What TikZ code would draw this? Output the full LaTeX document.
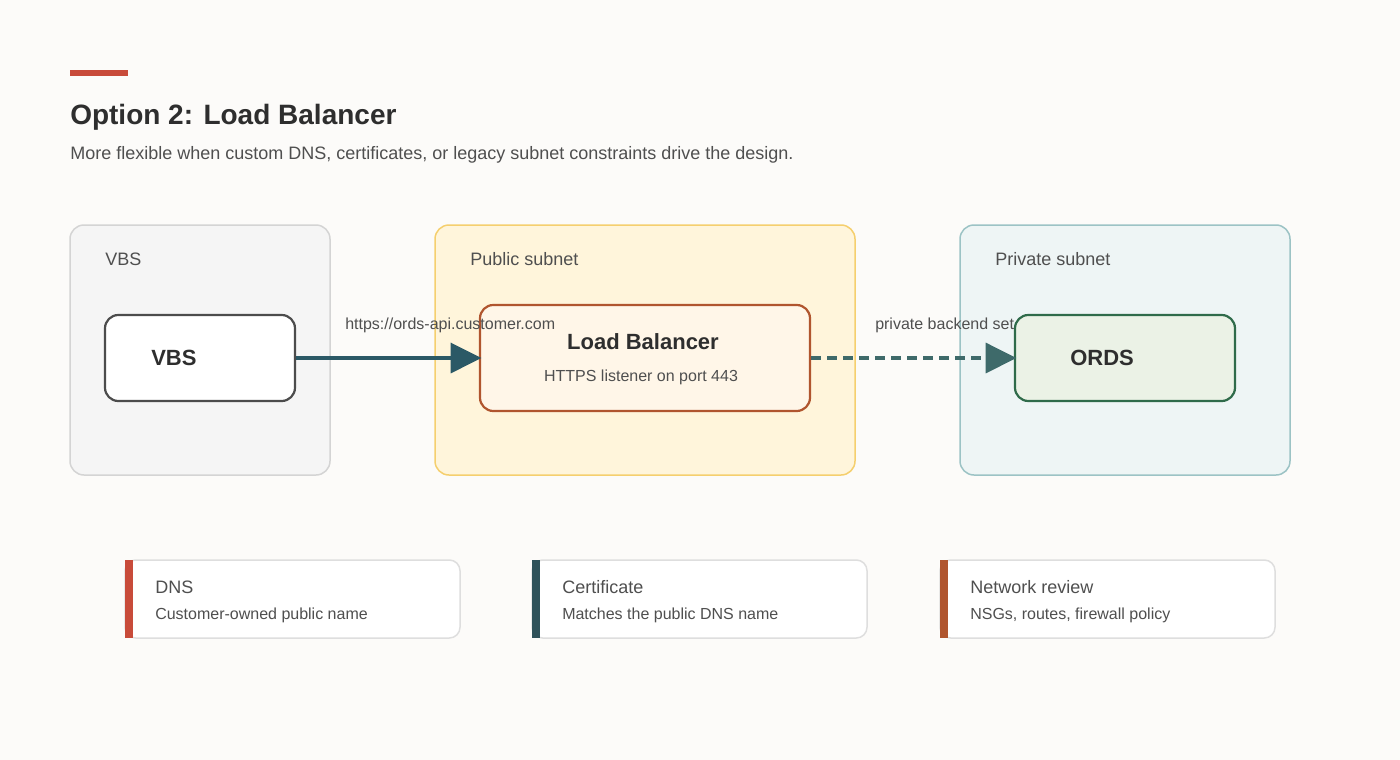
\documentclass[tikz,border=0pt]{standalone}
\usepackage{fontspec}
\setmainfont{Liberation Sans}
\usetikzlibrary{arrows.meta}
\definecolor{bg}{HTML}{FCFBF9}
\definecolor{accred}{HTML}{C84B3A}
\definecolor{txt}{HTML}{2E2E2E}
\definecolor{sub}{HTML}{4F4F4F}
\definecolor{teal}{HTML}{2B5966}
\definecolor{dteal}{HTML}{3E6A6A}
\definecolor{rust}{HTML}{B0552E}
\definecolor{slate}{HTML}{2F525A}
\definecolor{pubd}{HTML}{F5CF6E}
\definecolor{pubf}{HTML}{FFF5DB}
\definecolor{prid}{HTML}{9CC3C5}
\definecolor{prif}{HTML}{EEF5F5}
\definecolor{lbf}{HTML}{FFF6E8}
\definecolor{ordd}{HTML}{2F6B4A}
\definecolor{ordf}{HTML}{EBF2E6}
\tikzset{
 grp/.style={draw, line width=1.5pt*0.75, rounded corners=10.5pt},
 nd/.style={draw, line width=2.2pt*0.75, rounded corners=10pt},
 lbl/.style={anchor=west, font=\fontsize{13.5}{15}\selectfont, text=sub, inner sep=0},
 big/.style={font=\fontsize{16.5}{18}\selectfont\bfseries, text=txt, inner sep=0},
 small/.style={font=\fontsize{12}{14}\selectfont, text=sub, inner sep=0},
 card/.style={draw=black!13, fill=white, line width=1.5pt*0.75, rounded corners=8pt},
 ah/.style={-{Triangle[length=31pt*0.75,width=30pt*0.75]}, line width=3.5pt*0.75, shorten >=-2pt},
}
\begin{document}
\begin{tikzpicture}[x=0.75pt,y=-0.75pt]
\fill[bg] (0,0) rectangle (1400,760);
\useasboundingbox (0,0) rectangle (1400,760);
\fill[accred] (70,70) rectangle (128,76);
\node[anchor=west,inner sep=0,font=\fontsize{21}{24}\selectfont\bfseries,text=txt] (title) at (70,117) {Option 2: Load Balancer};
\node[lbl] (subt) at (70,155) {More flexible when custom DNS, certificates, or legacy subnet constraints drive the design.};
% groups
\draw[grp, draw=black!17, fill=black!4] (70,225) rectangle (330,475);
\node[lbl] (g1) at (105,259) {VBS};
\draw[grp, draw=pubd, fill=pubf] (435,225) rectangle (855,475);
\node[lbl] (g2) at (470,259) {Public subnet};
\draw[grp, draw=prid, fill=prif] (960,225) rectangle (1290,475);
\node[lbl] (g3) at (995,259) {Private subnet};
% nodes
\node[nd, draw=black!70, fill=white, minimum width=190*0.75pt, minimum height=86*0.75pt] (vbs) at (200,358) {};
\node[big, anchor=west] at (151,358) {VBS};
\node[nd, draw=rust, fill=lbf, minimum width=330*0.75pt, minimum height=106*0.75pt] (lb) at (645,358) {};
\node[big] (lbt) at (643,342) {Load Balancer};
\node[small] (lbs) at (641,377) {HTTPS listener on port 443};
\node[nd, draw=ordd, fill=ordf, minimum width=220*0.75pt, minimum height=86*0.75pt] (ords) at (1125,358) {};
\node[big, anchor=west] at (1070,358) {ORDS};
% connectors
\draw[ah, teal] (vbs.east) -- (lb.west);
\node[small, anchor=west] (l1) at (345,325) {https://ords-api.customer.com};
\draw[ah, dteal, dash pattern=on 7.5pt off 4.5pt] (lb.east) -- (ords.west);
\node[small, anchor=west] (l2) at (875,325) {private backend set};
% cards
\foreach \x/\c/\t/\s in {125/accred/DNS/Customer-owned public name, 532/slate/Certificate/Matches the public DNS name, 940/rust/Network review/{NSGs, routes, firewall policy}}{
 \draw[card] (\x,560) rectangle (\x+335,638);
 \fill[\c] (\x,560) rectangle (\x+8,638);
 \node[lbl, text=sub] at (\x+30,587) {\t};
 \node[small, anchor=west] at (\x+30,615) {\s};
}
\end{tikzpicture}
\end{document}
